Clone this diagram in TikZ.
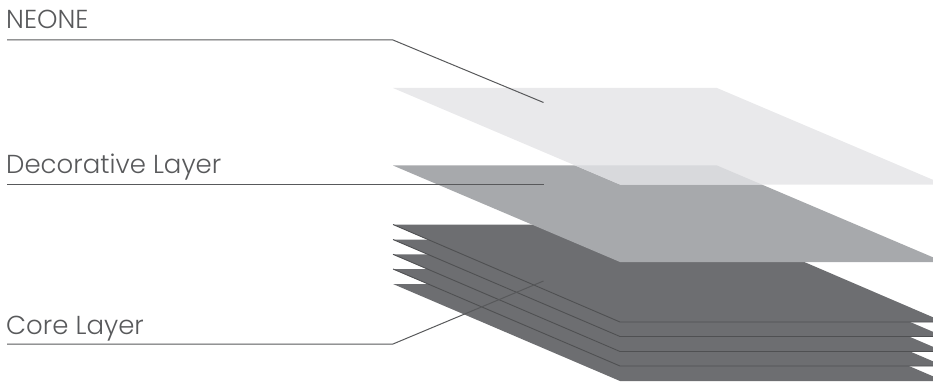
\documentclass[tikz,border=0pt]{standalone}
\usepackage{fontspec}
\setmainfont{Poppins}[UprightFont=* Light]
\definecolor{inkc}{HTML}{58595B}
\definecolor{edgec}{HTML}{4F5052}
\definecolor{darkc}{HTML}{6D6E71}
\definecolor{midc}{HTML}{A7A9AC}
\definecolor{lightc}{HTML}{E9E9EB}
\definecolor{overc}{HTML}{D8D9DC}
\tikzset{
  labeltext/.style={anchor=base west,inner sep=0pt,text=inkc,font=\fontsize{26}{30}\selectfont},
  leader/.style={draw=inkc,line width=1pt},
  sheetedge/.style={draw=edgec,line width=0.9pt},
}
\begin{document}
\begin{tikzpicture}[x=1pt,y=-1pt]
\useasboundingbox (0,0) rectangle (933,382);
\begin{scope}
\clip (0,0) rectangle (933,382);
% dark stack, bottom to top
\foreach \t/\b in {284/381,269/366,254.3/351.5,239.5/336.5,224.5/322}{
  \fill[darkc] (393,\t) -- (717,\t) -- (944,\b) -- (620,\b) -- cycle;
}
\foreach \t/\b in {269/366,254.3/351.5,239.5/336.5,224.5/322}{
  \draw[sheetedge] (393,\t) -- (620,\b) -- (944,\b);
}
% middle and top sheets
\fill[midc] (393,165.5) -- (717,165.5) -- (944,262) -- (620,262) -- cycle;
\fill[lightc] (393,88) -- (717,88) -- (944,184.5) -- (620,184.5) -- cycle;
\fill[overc] (575.3,165.5) -- (717,165.5) -- (761.7,184.5) -- (620,184.5) -- cycle;
\end{scope}
% labels
\node[labeltext] (neone) at (6,29) {NEONE};
\node[labeltext] (deco) at (6,174) {Decorative Layer};
\node[labeltext] (core) at (6,334) {Core Layer};
% leaders
\coordinate (a0) at (7,40); \coordinate (a1) at (393,40); \coordinate (a2) at (543.5,102.5);
\coordinate (b0) at (7,184.5); \coordinate (b1) at (543.5,184.5);
\coordinate (c0) at (7,344); \coordinate (c1) at (393,344); \coordinate (c2) at (543.5,281);
\draw[leader] (a0) -- (a1) -- (a2);
\draw[leader] (b0) -- (b1);
\draw[leader] (c0) -- (c1) -- (c2);
\end{tikzpicture}
\end{document}
